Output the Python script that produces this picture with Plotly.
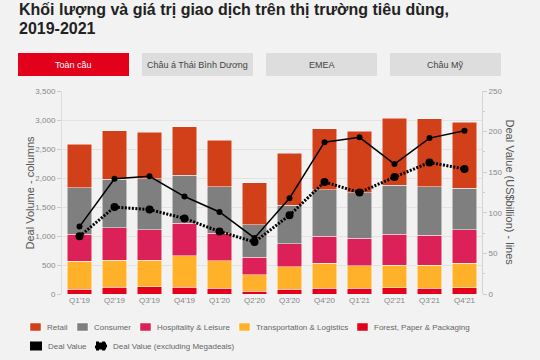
import plotly.graph_objects as go

quarters = ["Q1'19", "Q2'19", "Q3'19", "Q4'19", "Q1'20", "Q2'20", "Q3'20",
            "Q4'20", "Q1'21", "Q2'21", "Q3'21", "Q4'21"]

forest = [85, 115, 125, 120, 100, 45, 85, 103, 103, 109, 97, 109]
transport = [480, 465, 460, 540, 475, 283, 385, 431, 385, 391, 403, 425]
hospitality = [465, 565, 520, 557, 470, 303, 396, 459, 477, 534, 510, 574]
consumer = [805, 830, 880, 834, 800, 564, 667, 805, 781, 845, 835, 713]
retail = [745, 840, 800, 830, 805, 719, 897, 1047, 1057, 1155, 1177, 1144]

deal_value = [83, 142, 145, 120, 101, 69, 118, 187, 193, 160, 192, 201]
deal_value_ex = [71, 107, 104, 93, 77, 64, 97, 138, 125, 144, 162, 154]

series = [
    ("Forest, Paper & Packaging", forest, "#e3001c"),
    ("Transportation & Logistics", transport, "#ffb229"),
    ("Hospitality & Leisure", hospitality, "#db2157"),
    ("Consumer", consumer, "#7f7f7f"),
    ("Retail", retail, "#d2401a"),
]

FONT = "Liberation Sans, Arial, sans-serif"
W, H = 540, 360
L, R, T, B = 62, 58, 91, 66
PW, PH = W - L - R, H - T - B


def xp(px):
    return (px - L) / PW


def yp(py):
    return (H - B - py) / PH


fig = go.Figure()
for name, vals, col in series:
    fig.add_trace(go.Bar(x=quarters, y=vals, name=name, marker_color=col,
                         marker_line=dict(color="rgba(255,255,255,0.8)", width=0.6),
                         showlegend=False))

fig.add_trace(go.Scatter(x=quarters, y=deal_value, yaxis="y2", name="Deal Value",
                         mode="lines+markers", line=dict(color="black", width=1.5),
                         marker=dict(color="black", size=6), showlegend=False))
fig.add_trace(go.Scatter(x=quarters, y=deal_value_ex, yaxis="y2",
                         name="Deal Value (excluding Megadeals)",
                         mode="lines+markers",
                         line=dict(color="black", width=3, dash="2px,1.5px"),
                         marker=dict(color="black", size=8), showlegend=False))

shapes = []
annotations = []

# Title
annotations.append(dict(text="<b>Khối lượng và giá trị giao dịch trên thị trường tiêu dùng,</b>",
                        x=xp(17), y=yp(9), xref="paper", yref="paper", xanchor="left",
                        yanchor="middle", showarrow=False,
                        font=dict(family=FONT, size=16, color="#222222")))
annotations.append(dict(text="<b>2019-2021</b>",
                        x=xp(17), y=yp(29), xref="paper", yref="paper", xanchor="left",
                        yanchor="middle", showarrow=False,
                        font=dict(family=FONT, size=16, color="#222222")))

# Buttons
buttons = [("Toàn cầu", 18, 129, "#e3001b", "#ffffff"),
           ("Châu á Thái Bình Dương", 142, 253, "#dddddd", "#444444"),
           ("EMEA", 266, 377, "#dddddd", "#444444"),
           ("Châu Mỹ", 390, 501, "#dddddd", "#444444")]
for txt, x0, x1, fill, fc in buttons:
    shapes.append(dict(type="rect", xref="paper", yref="paper", x0=xp(x0), x1=xp(x1),
                       y0=yp(76), y1=yp(53), fillcolor=fill, line=dict(width=0), layer="below"))
    annotations.append(dict(text=txt, x=xp((x0 + x1) / 2), y=yp(64.5), xref="paper",
                            yref="paper", xanchor="center", yanchor="middle", showarrow=False,
                            font=dict(family=FONT, size=9, color=fc)))

# Axis titles
annotations.append(dict(text="Deal Volume - columns", x=xp(29), y=yp(192.5), xref="paper",
                        yref="paper", textangle=-90, showarrow=False, xanchor="center",
                        yanchor="middle", font=dict(family=FONT, size=11, color="#555555")))
annotations.append(dict(text="Deal Value (US$billion) - lines", x=xp(510), y=yp(192.5),
                        xref="paper", yref="paper", textangle=90, showarrow=False,
                        xanchor="center", yanchor="middle",
                        font=dict(family=FONT, size=11, color="#555555")))

# Legend (manual)
leg1 = [("Retail", "#d2401a", 30), ("Consumer", "#7f7f7f", 77),
        ("Hospitality & Leisure", "#db2157", 140),
        ("Transportation & Logistics", "#ffb229", 239),
        ("Forest, Paper & Packaging", "#e3001c", 357)]
for txt, col, x0 in leg1:
    shapes.append(dict(type="rect", xref="paper", yref="paper", x0=xp(x0), x1=xp(x0 + 11),
                       y0=yp(331), y1=yp(323), fillcolor=col,
                       line=dict(color="rgba(255,255,255,0.8)", width=0.6)))
    annotations.append(dict(text=txt, x=xp(x0 + 15), y=yp(327), xref="paper", yref="paper",
                            xanchor="left", yanchor="middle", showarrow=False,
                            font=dict(family=FONT, size=8, color="#666666")))

shapes.append(dict(type="rect", xref="paper", yref="paper", x0=xp(30), x1=xp(42),
                   y0=yp(350.5), y1=yp(341.5), fillcolor="black", line=dict(width=0)))
annotations.append(dict(text="Deal Value", x=xp(45.5), y=yp(346), xref="paper", yref="paper",
                        xanchor="left", yanchor="middle", showarrow=False,
                        font=dict(family=FONT, size=8, color="#666666")))
shapes.append(dict(type="rect", xref="paper", yref="paper", x0=xp(96), x1=xp(106),
                   y0=yp(349.5), y1=yp(342.5), fillcolor="black",
                   line=dict(color="black", width=2, dash="dot")))
annotations.append(dict(text="Deal Value (excluding Megadeals)", x=xp(111), y=yp(346),
                        xref="paper", yref="paper", xanchor="left", yanchor="middle",
                        showarrow=False, font=dict(family=FONT, size=8, color="#666666")))

fig.update_layout(
    width=W, height=H,
    margin=dict(l=L, r=R, t=T, b=B),
    paper_bgcolor="#f2f2f2", plot_bgcolor="#f2f2f2",
    barmode="stack", bargap=0.29,
    font=dict(family=FONT, size=8, color="#888888"),
    showlegend=False,
    shapes=shapes, annotations=annotations,
    xaxis=dict(range=[-0.5, 11.5], showgrid=False, zeroline=False, showline=False,
               ticks="", tickfont=dict(size=8, color="#888888"), fixedrange=True),
    yaxis=dict(range=[0, 3500], dtick=500, tickformat=",", showgrid=True,
               gridcolor="#e2e2e2", gridwidth=1, zeroline=False, showline=True,
               linecolor="#dddddd", linewidth=1, ticks="outside", ticklen=4,
               tickcolor="#cccccc", tickfont=dict(size=8, color="#888888")),
    yaxis2=dict(range=[0, 250], dtick=50, overlaying="y", side="right", showgrid=False,
                zeroline=False, showline=True, linecolor="#d5d5d5", linewidth=1,
                ticks="outside", ticklen=4, tickcolor="#cccccc",
                minor=dict(dtick=25, ticks="outside", ticklen=2, tickcolor="#cccccc"),
                tickfont=dict(size=8, color="#888888")),
)

fig.write_html("out.html", config={"displayModeBar": False},
               post_script="document.body.style.margin='0';"
                           "document.body.style.background='#f2f2f2';")
